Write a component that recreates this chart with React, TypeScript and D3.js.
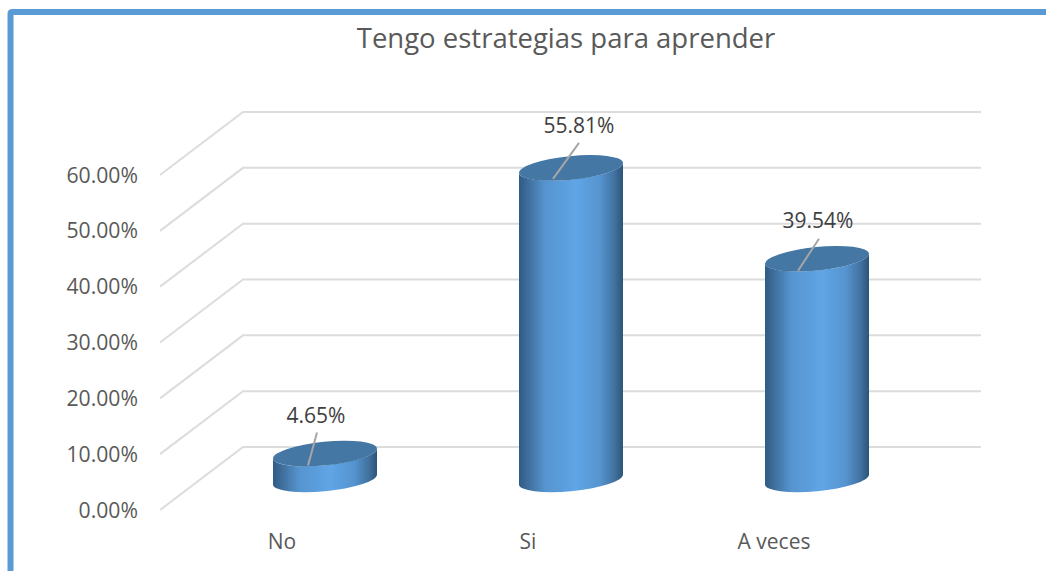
import React from "react";
import * as d3 from "d3";

const categories = ["No", "Si", "A veces"];
const values = [4.65, 55.81, 39.54];
const valueLabels = ["4.65%", "55.81%", "39.54%"];
const ticks = [0, 10, 20, 30, 40, 50, 60];
const titleText = "Tengo estrategias para aprender";

const W = 1046, H = 571;
const font = "'Open Sans', 'Noto Sans', sans-serif";
const depth = { x: 83, y: -63 };
const yFront = d3.scaleLinear().domain([0, 60]).range([510, 175]);
const xBar = d3.scalePoint<string>().domain(categories).range([325, 817]);
const baseY = 479.5;
const rx = 52.25, ry = 11.8, tilt = -5.74, ex = 52, ey = 5;
const leaderStart = [{ x: -17, y: 12 }, { x: -18, y: 11 }, { x: -19, y: 12 }];
const leaderEnd = [{ x: -8, y: -21 }, { x: 8, y: -25 }, { x: 2, y: -20 }];
const labelOffset = [{ x: -9, y: -31 }, { x: 8, y: -35 }, { x: 1, y: -31 }];

export default function App() {
  const ppu = (yFront(0) - yFront(10)) / 10;
  return (
    <svg width={W} height={H} style={{ position: "absolute", left: 0, top: 0, background: "#fff" }} fontFamily={font}>
      <defs>
        <linearGradient id="body" x1="0" x2="1" y1="0" y2="0">
          <stop offset="0" stopColor="#2f5b85" />
          <stop offset="0.1" stopColor="#41719f" />
          <stop offset="0.25" stopColor="#5594cf" />
          <stop offset="0.55" stopColor="#60a5e6" />
          <stop offset="0.78" stopColor="#5594cf" />
          <stop offset="0.92" stopColor="#41719f" />
          <stop offset="1" stopColor="#2c5478" />
        </linearGradient>
      </defs>
      <path d={`M10.5,${H} V14 Q10.5,12 12.5,12 H${W}`} fill="none" stroke="#5b9bd5" strokeWidth={6} />
      <text x={566} y={48} textAnchor="middle" fontSize={27.5} fill="#595959">{titleText}</text>
      {ticks.map(t => {
        const y = yFront(t);
        return (
          <g key={t}>
            <polyline
              points={`160,${y} ${160 + depth.x},${y + depth.y} 981,${y + depth.y}`}
              fill="none" stroke="#dcdcdc" strokeWidth={2}
            />
            <text x={138} y={y + 7.5} textAnchor="end" fontSize={21.2} fill="#595959">{d3.format(".2f")(t)}%</text>
          </g>
        );
      })}
      {categories.map((c, i) => {
        const cx = xBar(c)!;
        const top = baseY - values[i] * ppu;
        const body = `M${cx - ex},${top + ey} L${cx - ex},${baseY + ey} A${rx},${ry} ${tilt} 0 0 ${cx + ex},${baseY - ey} L${cx + ex},${top - ey} A${rx},${ry} ${tilt} 0 1 ${cx - ex},${top + ey} Z`;
        return (
          <g key={c}>
            <path d={body} fill="url(#body)" />
            <ellipse cx={cx} cy={top} rx={rx} ry={ry} transform={`rotate(${tilt} ${cx} ${top})`} fill="#4577a5" />
            <line x1={cx + leaderStart[i].x} y1={top + leaderStart[i].y} x2={cx + leaderEnd[i].x} y2={top + leaderEnd[i].y} stroke="#a6a6a6" strokeWidth={2} />
            <text x={cx + labelOffset[i].x} y={top + labelOffset[i].y} textAnchor="middle" fontSize={21} fill="#404040">{valueLabels[i]}</text>
            <text x={cx - 43} y={548.5} textAnchor="middle" fontSize={21} fill="#595959">{c}</text>
          </g>
        );
      })}
    </svg>
  );
}
